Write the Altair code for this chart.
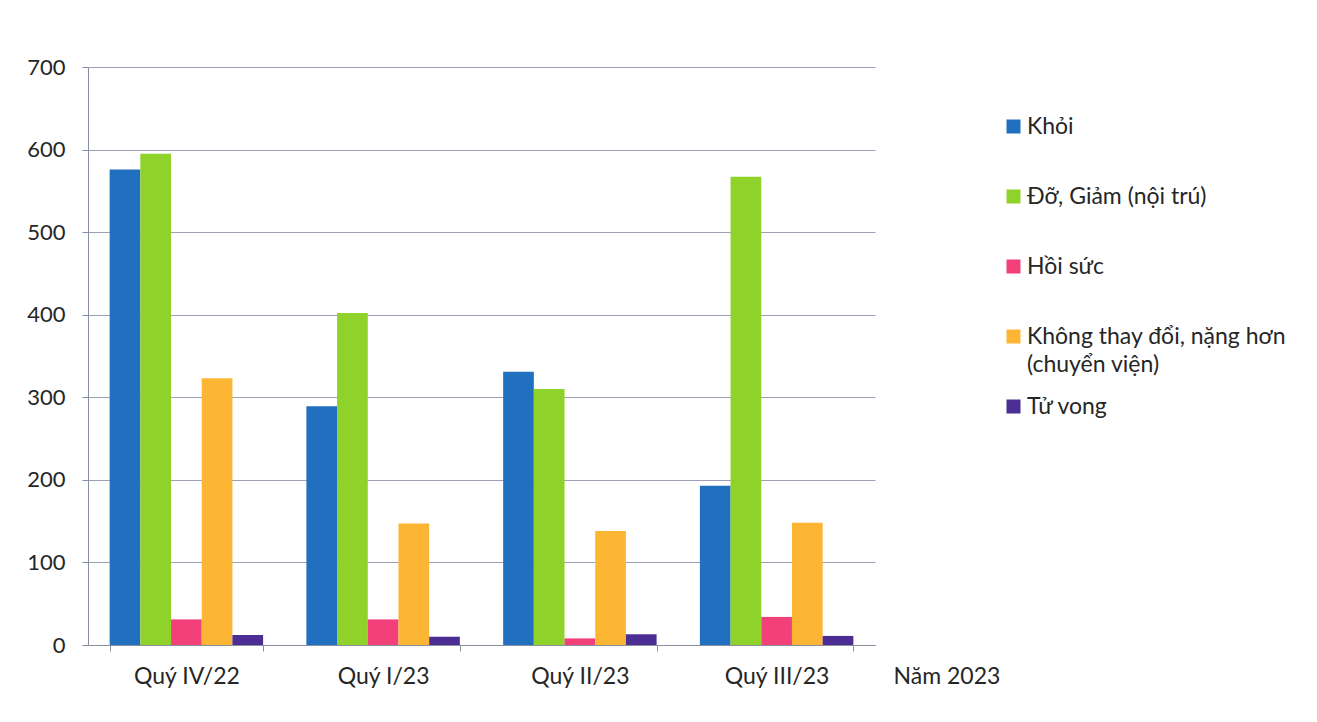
import altair as alt
import pandas as pd

quarters = ["Quý IV/22", "Quý I/23", "Quý II/23", "Quý III/23"]
series = ["Khỏi", "Đỡ, Giảm (nội trú)", "Hồi sức", "Không thay đổi, nặng hơn|(chuyển viện)", "Tử vong"]
khoi = [576, 289, 331, 193]
do_giam = [595, 402, 310, 567]
hoi_suc = [31, 31, 8, 34]
khong_thay_doi = [323, 147, 138, 148]
tu_vong = [12, 10, 13, 11]
colors = ["#2170C0", "#8ED22A", "#F2407A", "#FDB633", "#4B2D94"]

rows = []
for s, vals in zip(series, [khoi, do_giam, hoi_suc, khong_thay_doi, tu_vong]):
    for q, v in zip(quarters, vals):
        rows.append({"quarter": q, "series": s, "value": v})
df = pd.DataFrame(rows)

FONT = "Lato"
TXT = "#262626"
AX = "#8a8fa0"

chart = alt.Chart(df).mark_bar().encode(
    x=alt.X("quarter:N", sort=quarters,
            scale=alt.Scale(paddingInner=0.22, paddingOuter=0.11),
            axis=alt.Axis(title="Năm 2023", titleX=805, titleY=31, titleAlign="left",
                          titleBaseline="middle", titleFontWeight="normal", titleFontSize=23,
                          titleColor=TXT, titleFont=FONT,
                          labelFontSize=23, labelColor=TXT, labelFont=FONT, labelPadding=14,
                          tickBand="extent", tickSize=6, tickColor=AX,
                          domainColor=AX, labelAngle=0, grid=False)),
    xOffset=alt.XOffset("series:N", sort=series, scale=alt.Scale(paddingInner=0, paddingOuter=0)),
    y=alt.Y("value:Q", scale=alt.Scale(domain=[0, 700]),
            axis=alt.Axis(title=None, values=list(range(0, 701, 100)), labelFontSize=22,
                          labelColor=TXT, labelFont=FONT, labelPadding=17, tickSize=6,
                          tickColor=AX, domainColor=AX, gridColor="#9aa0b8",
                          gridWidth=1)),
    color=alt.Color("series:N", sort=series, scale=alt.Scale(domain=series, range=colors),
                    legend=alt.Legend(title=None, orient="none", legendX=914, legendY=48,
                                      symbolType="square", symbolSize=196, symbolStrokeWidth=0,
                                      labelFontSize=23, labelColor=TXT, labelFont=FONT,
                                      labelExpr="split(datum.label + (indexof(datum.label, '|') < 0 ? '|' : ''), '|')",
                                      rowPadding=18, labelLimit=400, labelOffset=2)),
).properties(
    width=787, height=578,
    autosize=alt.AutoSizeParams(type="none"),
    padding={"left": 80, "top": 59, "right": 434, "bottom": 69},
).configure(
    view=alt.ViewConfig(stroke="transparent", strokeWidth=0),
    style={"guide-label": {"lineHeight": 28}},
)

chart.save("out.html", embed_options={"renderer": "svg", "actions": False})
